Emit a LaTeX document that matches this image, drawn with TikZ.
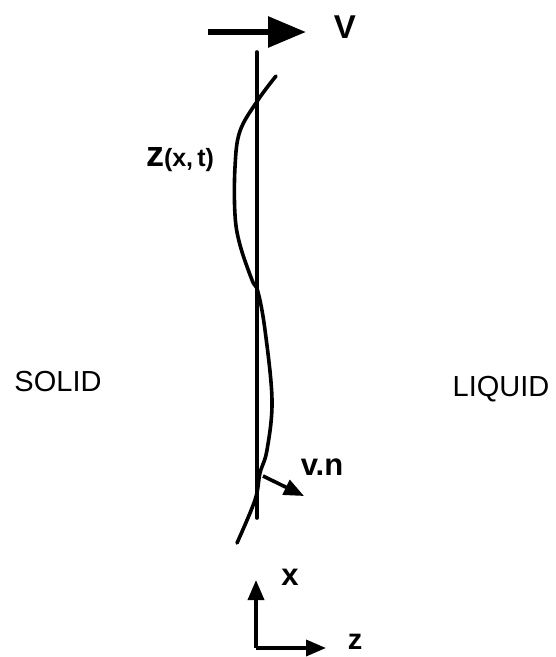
\documentclass[tikz,border=0pt]{standalone}
\usepackage{fontspec}
\setmainfont{Liberation Sans}
\usetikzlibrary{arrows.meta}
\begin{document}
\begin{tikzpicture}[x=1pt,y=-1pt, line width=3.6pt, line cap=round,
  lbl/.style={inner sep=0pt, font=\bfseries\fontsize{31}{31}\selectfont},
  region/.style={inner sep=0pt, font=\fontsize{29}{29}\selectfont},
  bigarrow/.style={-{Triangle[length=38pt,width=30pt]}, line width=6pt, line cap=butt},
  smallarrow/.style={-{Triangle[length=20pt,width=16pt]}, line width=3.6pt, line cap=butt}]
\useasboundingbox (0,0) rectangle (556,657);
% interface (flat)
\coordinate (ltop) at (257,52);
\coordinate (lbot) at (257,518);
\draw (ltop) -- (lbot);
% velocity arrow
\coordinate (vs) at (208,32);
\coordinate (ve) at (306,32);
\draw[bigarrow] (vs) -- (ve);
\node[lbl, font=\bfseries\fontsize{33}{33}\selectfont] (V) at (345,27) {V};
% perturbed interface
\draw plot[smooth, tension=0.6] coordinates {(276,76) (258,100) (240,131) (235,167) (235,215) (240,245) (252,280) (258,292) (265,330) (272,400) (267,450) (260,473) (255,500) (237,543)};
\node[inner sep=0pt] (zxt) at (180,160) {\bfseries\fontsize{36}{36}\selectfont z\fontsize{25}{25}\selectfont(x,\,t)};
% normal velocity
\coordinate (ns) at (263,476);
\coordinate (ne) at (304,496);
\draw[smallarrow] (ns) -- (ne);
\node[lbl] (vn) at (322,467) {v.n};
% regions
\node[region] (solid) at (58,382) {SOLID};
\node[region] (liquid) at (501,389) {LIQUID};
% axes
\coordinate (o) at (256,648);
\coordinate (xt) at (256,580);
\coordinate (zt) at (326,648);
\draw[smallarrow] (o) -- (xt);
\draw[smallarrow] (o) -- (zt);
\node[lbl] (xl) at (290,577) {x};
\node[lbl, font=\bfseries\fontsize{29}{29}\selectfont] (zl) at (355,642) {z};
\end{tikzpicture}
\end{document}
